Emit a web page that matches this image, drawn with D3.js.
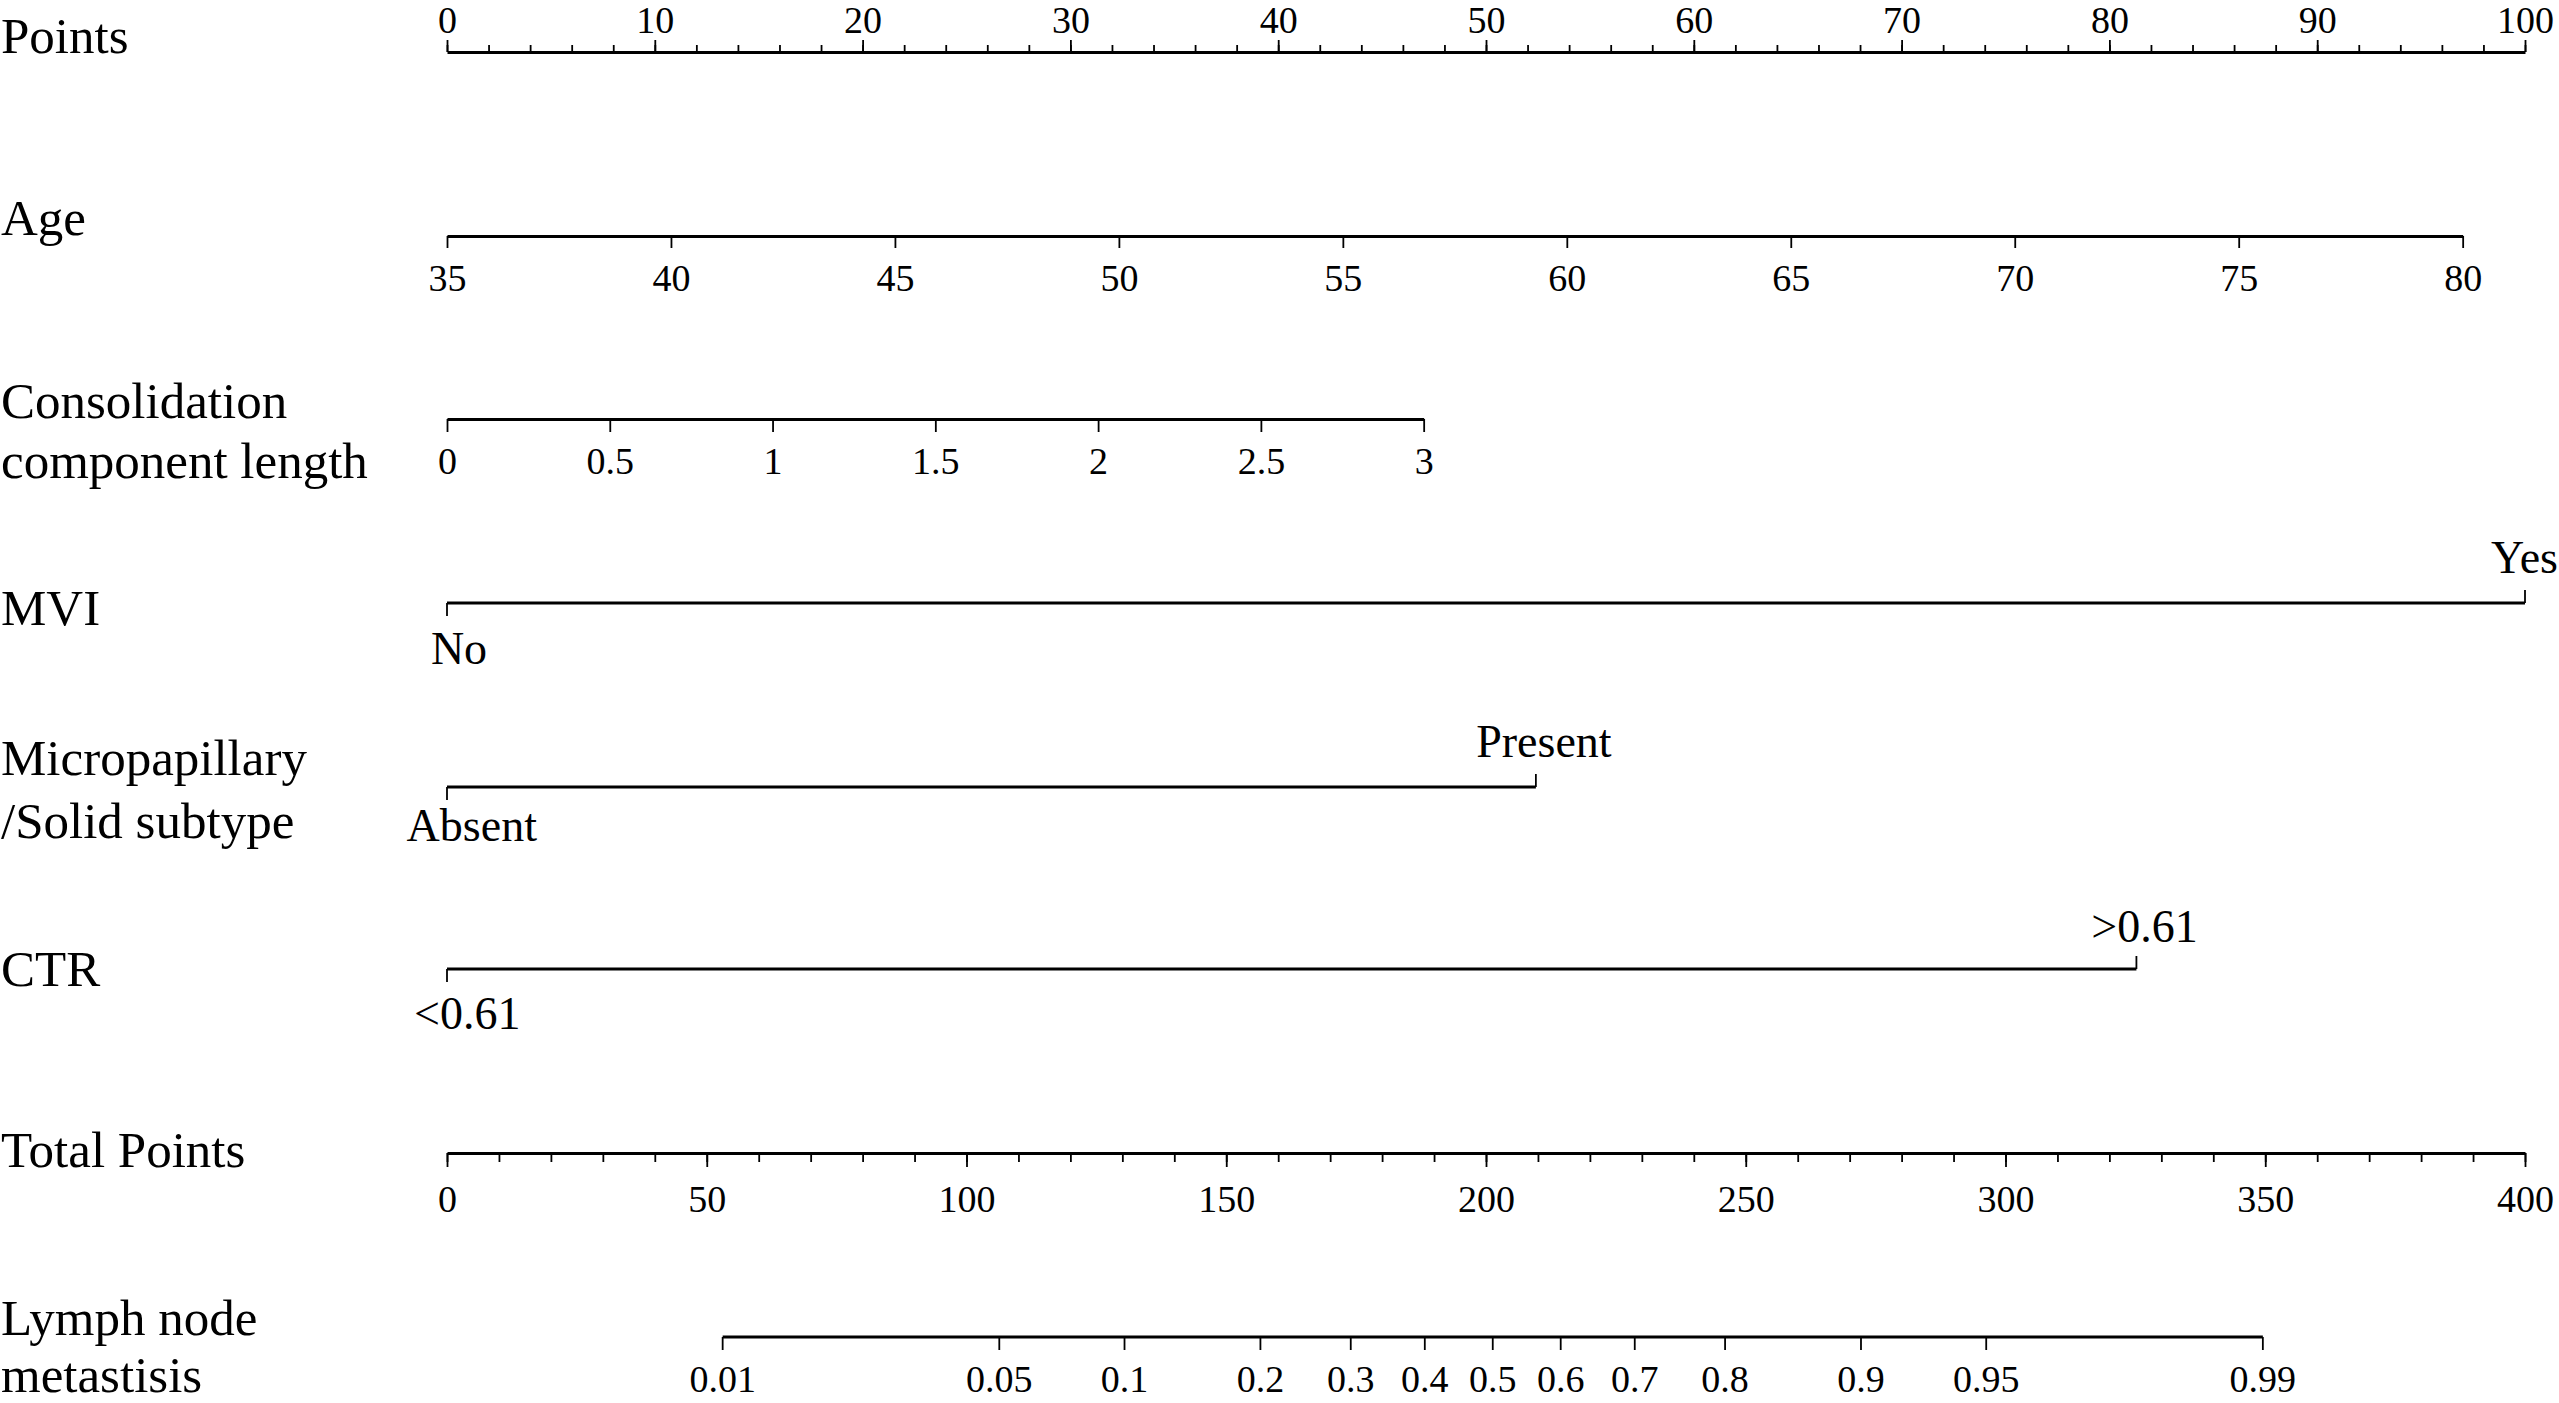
<!DOCTYPE html>
<html><head><meta charset="utf-8">
<script src="https://cdn.jsdelivr.net/npm/d3@7"></script>
<style>
html,body{margin:0;padding:0;background:#fff;overflow:hidden}
svg text{font-family:"Liberation Serif","Times New Roman",serif;fill:#000}
</style>
</head><body>
<svg id="c" width="2559" height="1403"></svg>
<script>
// ---------------- data ----------------
const pointsTicks = [0,10,20,30,40,50,60,70,80,90,100];
const ageValues = [35,40,45,50,55,60,65,70,75,80];
const ageMaxPoints = 97;            // points at age 80
const cclValues = [0,0.5,1,1.5,2,2.5,3];
const cclMaxPoints = 47;           // points at length 3
const mviLevels = ["No","Yes"];
const mviPoints = [0,100];
const mpLevels = ["Absent","Present"];
const mpPoints = [0,52.4];
const ctrLevels = ["<0.61",">0.61"];
const ctrPoints = [0,81.3];
const totalTicks = [0,50,100,150,200,250,300,350,400];
const lnmProbs = [0.01,0.05,0.1,0.2,0.3,0.4,0.5,0.6,0.7,0.8,0.9,0.95,0.99];
const lnmProbLabels = ["0.01","0.05","0.1","0.2","0.3","0.4","0.5","0.6","0.7","0.8","0.9","0.95","0.99"];
const lnmIntercept = 201.3;        // total points at logit = 0
const lnmSlope = 32.26;            // total points per logit unit

// ---------------- layout ----------------
const X0 = 447, X1 = 2525, W = 2559;
const NUM_FS = 38, CAT_FS = 46, LAB_FS = 51;
const AXIS_W = 3, TICK_W = 1.8;

const svg = d3.select("#c");
const pointsScale = d3.scaleLinear().domain([0,100]).range([X0,X1]);
const totalScale = d3.scaleLinear().domain([0,400]).range([X0,X1]);

function leftLabel(lines, baselines){
  lines.forEach((t,i)=>{
    svg.append("text").attr("x",1).attr("y",baselines[i])
      .attr("font-size",LAB_FS).text(t);
  });
}
function styleAxis(g){
  g.select(".domain").attr("stroke","#000").attr("stroke-width",AXIS_W);
  g.selectAll(".tick line").attr("stroke","#000").attr("stroke-width",TICK_W);
  g.selectAll(".tick text").attr("font-size",NUM_FS)
    .attr("font-family","Liberation Serif, Times New Roman, serif").attr("fill","#000");
}

// ---- Points row ----
leftLabel(["Points"],[53]);
{
  const y = 52;
  const gMinor = svg.append("g").attr("transform",`translate(0,${y})`)
    .call(d3.axisTop(pointsScale).tickValues(pointsScale.ticks(40)).tickSize(7).tickSizeOuter(0).tickFormat(""));
  styleAxis(gMinor);
  const g = svg.append("g").attr("transform",`translate(0,${y})`)
    .call(d3.axisTop(pointsScale).tickValues(pointsTicks).tickSize(12).tickSizeOuter(0).tickPadding(7).tickFormat(d3.format("d")));
  styleAxis(g);
  g.select(".domain").remove();
}

// ---- Age row ----
leftLabel(["Age"],[235]);
{
  const y = 236;
  const s = d3.scaleLinear().domain([35,80]).range([pointsScale(0),pointsScale(ageMaxPoints)]);
  const g = svg.append("g").attr("transform",`translate(0,${y})`)
    .call(d3.axisBottom(s).tickValues(ageValues).tickSize(12).tickSizeOuter(0).tickPadding(16).tickFormat(d3.format("d")));
  styleAxis(g);
}

// ---- Consolidation component length ----
leftLabel(["Consolidation","component length"],[418,478]);
{
  const y = 419;
  const s = d3.scaleLinear().domain([0,3]).range([pointsScale(0),pointsScale(cclMaxPoints)]);
  const g = svg.append("g").attr("transform",`translate(0,${y})`)
    .call(d3.axisBottom(s).tickValues(cclValues).tickSize(13).tickSizeOuter(0).tickPadding(15).tickFormat(d=>String(d)));
  styleAxis(g);
}

// ---- categorical rows ----
function catRow(levels, pts, y, up, down){
  const xs = pts.map(p=>pointsScale(p));
  svg.append("line").attr("x1",xs[0]).attr("x2",xs[xs.length-1]).attr("y1",y).attr("y2",y)
    .attr("stroke","#000").attr("stroke-width",AXIS_W);
  levels.forEach((lv,i)=>{
    const isUp = i % 2 === 1;
    const ty = isUp ? y - 13 : y + 13;
    svg.append("line").attr("x1",xs[i]).attr("x2",xs[i]).attr("y1",y).attr("y2",ty)
      .attr("stroke","#000").attr("stroke-width",TICK_W);
    const t = svg.append("text").attr("font-size",CAT_FS).attr("text-anchor","middle")
      .attr("y", isUp ? y - up : y + down).text(lv);
    const w = t.node().getComputedTextLength();
    let x = xs[i] + (isUp ? 8 : Math.max(12, w*0.19));
    if (x + w/2 > W - 1) x = W - 1 - w/2;
    t.attr("x", x);
  });
}
leftLabel(["MVI"],[625]);
catRow(mviLevels, mviPoints, 603, 30, 61);
leftLabel(["Micropapillary","/Solid subtype"],[775,838]);
catRow(mpLevels, mpPoints, 787, 30, 54);
leftLabel(["CTR"],[986]);
catRow(ctrLevels, ctrPoints, 969, 27, 60);

// ---- Total Points ----
leftLabel(["Total Points"],[1167]);
{
  const y = 1153;
  const gMinor = svg.append("g").attr("transform",`translate(0,${y})`)
    .call(d3.axisBottom(totalScale).tickValues(totalScale.ticks(40)).tickSize(9).tickSizeOuter(0).tickFormat(""));
  styleAxis(gMinor);
  const g = svg.append("g").attr("transform",`translate(0,${y})`)
    .call(d3.axisBottom(totalScale).tickValues(totalTicks).tickSize(14).tickSizeOuter(0).tickPadding(18).tickFormat(d3.format("d")));
  styleAxis(g);
  g.select(".domain").remove();
}

// ---- Lymph node metastasis ----
leftLabel(["Lymph node","metastisis"],[1335,1392]);
{
  const y = 1337;
  const logit = p => Math.log(p/(1-p));
  const xOf = p => totalScale(lnmIntercept + lnmSlope*logit(p));
  const g = svg.append("g");
  g.append("line").attr("x1",xOf(lnmProbs[0])).attr("x2",xOf(lnmProbs[lnmProbs.length-1]))
    .attr("y1",y).attr("y2",y).attr("stroke","#000").attr("stroke-width",AXIS_W);
  g.selectAll("line.tk").data(lnmProbs).join("line").attr("class","tk")
    .attr("x1",xOf).attr("x2",xOf).attr("y1",y).attr("y2",y+13)
    .attr("stroke","#000").attr("stroke-width",TICK_W);
  g.selectAll("text").data(lnmProbs).join("text")
    .attr("x",xOf).attr("y",1392).attr("text-anchor","middle").attr("font-size",NUM_FS)
    .text((d,i)=>lnmProbLabels[i]);
}
</script>
</body></html>
